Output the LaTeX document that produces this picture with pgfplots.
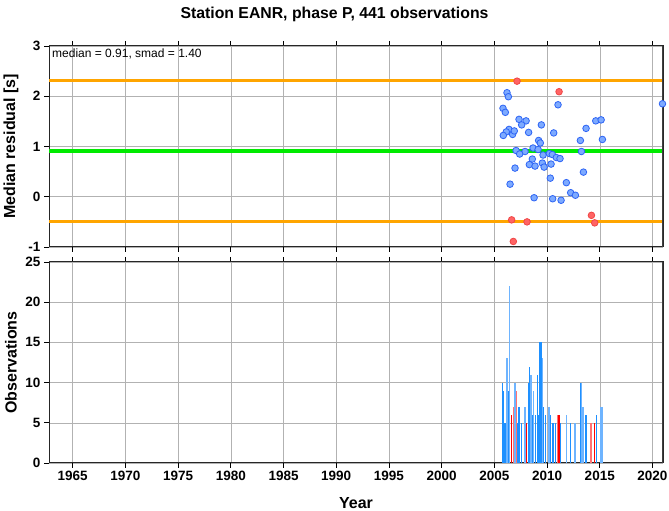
\documentclass[border=0pt]{standalone}
\usepackage{fontspec}
\setmainfont{Liberation Sans}
\usepackage{pgfplots}
\pgfplotsset{compat=1.18}
\definecolor{ptfill}{RGB}{125,170,255}
\definecolor{ptedge}{RGB}{45,100,245}
\definecolor{rdfill}{RGB}{255,100,100}
\definecolor{rdedge}{RGB}{240,70,70}
\definecolor{orangeline}{RGB}{255,165,0}
\definecolor{greenline}{RGB}{0,235,0}
\definecolor{bdark}{RGB}{30,144,255}
\definecolor{blight}{RGB}{110,180,255}
\definecolor{rdark}{RGB}{255,0,0}
\definecolor{rlight}{RGB}{255,115,115}
\begin{document}
\begin{tikzpicture}
\useasboundingbox (0pt,0pt) rectangle (669pt,511pt);
\pgfplotsset{common/.style={
 scale only axis, width=614pt, height=201pt,
 xmin=1962.75, xmax=2021,
 xtick={1965,1970,1975,1980,1985,1990,1995,2000,2005,2010,2015,2020},
 grid=major, major grid style={gray!60, line width=0.5pt},
 tick align=outside, major tick length=5pt,
 tick style={black, line width=0.7pt},
 axis line style={line width=1pt, black!85},
 ytick pos=left, xtick pos=both,
 tick label style={font=\bfseries\fontsize{13.5}{14}\selectfont},
 /pgf/number format/assume math mode=true,
 /pgf/number format/1000 sep={},
}}
\node[font=\bfseries\fontsize{15.8}{17}\selectfont] at (334.5pt,497pt) {Station EANR, phase P, 441 observations};
\node[rotate=90, font=\bfseries\fontsize{16}{17}\selectfont] at (11pt,364.5pt) {Median residual [s]};
\node[rotate=90, font=\bfseries\fontsize{16}{17}\selectfont] at (11pt,148.5pt) {Observations};
\node[font=\bfseries\fontsize{16}{17}\selectfont] at (356pt,8pt) {Year};

\begin{axis}[common, at={(49pt,465pt)}, anchor=north west,
 ymin=-1, ymax=3, ytick={-1,0,1,2,3}, yticklabels={-1,0,1,2,3}, xticklabels={}]
\addplot[orangeline, line width=2.5pt] coordinates {(1962.75,2.31) (2021,2.31)};
\addplot[orangeline, line width=2.5pt] coordinates {(1962.75,-0.49) (2021,-0.49)};
\addplot[greenline, line width=4pt] coordinates {(1962.75,0.91) (2021,0.91)};
\addplot[only marks, mark=*, mark size=3.3pt, mark options={fill=ptfill, draw=ptedge, line width=0.8pt}] coordinates {
(2006.20,2.07)(2006.33,1.99)(2005.82,1.76)(2006.04,1.68)(2011.04,1.83)(2020.95,1.85)(2007.34,1.54)(2008.01,1.51)(2007.59,1.43)(2009.46,1.43)(2014.62,1.51)(2015.13,1.53)(2013.70,1.36)(2006.39,1.34)(2006.13,1.29)(2005.85,1.22)(2006.73,1.24)(2006.89,1.31)(2008.25,1.28)(2010.63,1.27)(2013.16,1.12)(2015.25,1.14)(2009.20,1.12)(2009.36,1.07)(2008.67,0.97)(2009.15,0.94)(2007.06,0.92)(2007.91,0.90)(2007.40,0.85)(2013.26,0.90)(2009.62,0.83)(2010.22,0.86)(2010.50,0.84)(2010.88,0.78)(2011.23,0.76)(2008.60,0.75)(2006.96,0.57)(2008.32,0.64)(2008.86,0.61)(2009.55,0.67)(2009.72,0.59)(2010.38,0.65)(2013.45,0.49)(2010.31,0.37)(2006.49,0.25)(2011.83,0.28)(2012.24,0.08)(2012.69,0.03)(2008.77,-0.02)(2010.53,-0.04)(2011.33,-0.07)};
\addplot[only marks, mark=*, mark size=3.3pt, mark options={fill=rdfill, draw=rdedge, line width=0.8pt}] coordinates {
(2007.15,2.30)(2011.14,2.09)(2006.64,-0.46)(2008.10,-0.50)(2014.21,-0.37)(2014.52,-0.52)(2006.80,-0.89)};
\node[anchor=north west, font=\fontsize{12}{13}\selectfont, inner sep=3pt] at (rel axis cs:0,1) {median = 0.91, smad = 1.40};
\draw[line width=3pt, black!75] (rel axis cs:1,0) -- (rel axis cs:1,1);
\end{axis}

\begin{axis}[common, at={(49pt,249pt)}, anchor=north west,
 ymin=0, ymax=25, ytick={0,5,10,15,20,25}, yticklabels={0,5,10,15,20,25},
 xticklabel pos=lower,
 xticklabels={1965,1970,1975,1980,1985,1990,1995,2000,2005,2010,2015,2020}]
\addplot[ycomb, blight, line width=1.4pt] coordinates {
(2006.13,9)(2006.20,13)(2006.45,22)(2006.96,10)(2007.91,7)(2008.48,11)(2008.73,9)(2009.52,13)(2010.19,7)(2011.83,6)(2012.66,5)(2013.26,10)(2013.42,7)(2015.13,7)(2015.25,7)};
\addplot[ycomb, bdark, line width=1.4pt] coordinates {
(2005.79,10)(2005.88,9)(2006.01,5)(2006.32,9)(2007.21,5)(2007.34,7)(2007.56,5)(2008.29,10)(2008.35,12)(2008.60,6)(2008.89,6)(2009.11,11)(2009.21,6)(2009.33,15)(2009.43,15)(2009.68,7)(2009.84,6)(2010.31,6)(2010.50,5)(2010.63,5)(2010.82,5)(2011.26,5)(2012.24,5)(2013.16,10)(2013.70,6)(2014.68,6)(2020.98,6)};
\addplot[ycomb, rlight, line width=1.4pt] coordinates {
(2006.83,7)(2007.08,9)(2011.04,6)(2014.18,5)};
\addplot[ycomb, rdark, line width=1.4pt] coordinates {
(2006.64,6)(2008.07,5)(2011.14,6)(2014.52,5)};
\draw[line width=3pt, black!75] (rel axis cs:1,0) -- (rel axis cs:1,1);
\end{axis}
\end{tikzpicture}
\end{document}
